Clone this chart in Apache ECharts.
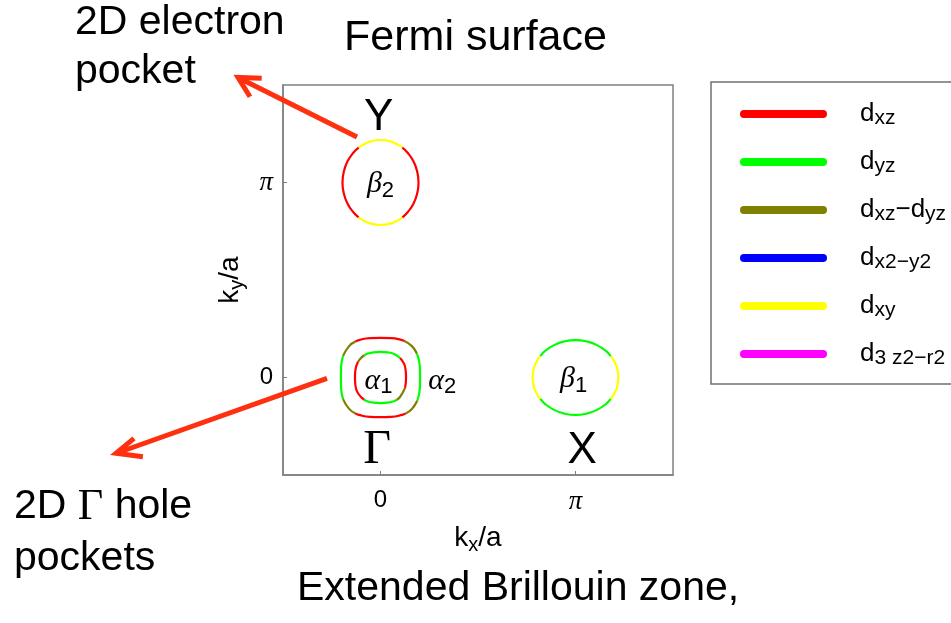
<!DOCTYPE html>
<html><head><meta charset="utf-8">
<script src="https://cdn.jsdelivr.net/npm/echarts@6/dist/echarts.min.js"></script>
<style>html,body{margin:0;padding:0;background:#fff}#c{width:951px;height:623px}</style>
</head><body><div id="c"></div>
<script>
// ---- data (coordinates in units of pi) ----
const orbitals = ['dxz', 'dyz', 'dxz-dyz', 'dx2-y2', 'dxy', 'd3z2-r2'];
const orbitalColors = ['#ff0000', '#00ff00', '#808000', '#0000ff', '#ffff00', '#ff00ff'];
const orbitalLabels = [
  '{sp|}{d|d}{s|xz}',
  '{sp|}{d|d}{s|yz}',
  '{sp|}{d|d}{s|xz}{d|\u2212d}{s|yz}',
  '{sp|}{d|d}{s|x2\u2212y2}',
  '{sp|}{d|d}{s|xy}',
  '{sp|}{d|d}{s|3 z2\u2212r2}'
];
const xTicks = [0, 1];
const xTickLabels = ['{n|0}', '{p|\u03c0}'];
const yTicks = [0, 1];
const yTickLabels = ['{n|0}', '{p|\u03c0}'];

// beta2 pocket around Y
const beta2Arcs = [
  ['dxy', [[0.112,1.179],[0.098,1.189],[0.050,1.211],[0,1.218],[-0.050,1.211],[-0.098,1.189],[-0.112,1.179]]],
  ['dxz', [[-0.112,1.179],[-0.138,1.154],[-0.169,1.109],[-0.188,1.056],[-0.195,1.0],[-0.188,0.944],[-0.169,0.891],[-0.138,0.846],[-0.112,0.821]]],
  ['dxy', [[-0.112,0.821],[-0.098,0.811],[-0.050,0.789],[0,0.782],[0.050,0.789],[0.098,0.811],[0.112,0.821]]],
  ['dxz', [[0.112,0.821],[0.138,0.846],[0.169,0.891],[0.188,0.944],[0.195,1.0],[0.188,1.056],[0.169,1.109],[0.138,1.154],[0.112,1.179]]]
];
// beta1 pocket around X
const beta1Arcs = [
  ['dxy', [[1.180,-0.110],[1.191,-0.096],[1.213,-0.050],[1.220,0],[1.213,0.050],[1.191,0.096],[1.180,0.110]]],
  ['dyz', [[1.180,0.110],[1.156,0.136],[1.110,0.166],[1.057,0.185],[1.000,0.192],[0.943,0.185],[0.890,0.166],[0.844,0.136],[0.820,0.110]]],
  ['dxy', [[0.820,0.110],[0.809,0.096],[0.787,0.050],[0.780,0],[0.787,-0.050],[0.809,-0.096],[0.820,-0.110]]],
  ['dyz', [[0.820,-0.110],[0.844,-0.136],[0.890,-0.166],[0.943,-0.185],[1.000,-0.192],[1.057,-0.185],[1.110,-0.166],[1.156,-0.136],[1.180,-0.110]]]
];
// alpha2 outer hole pocket around Gamma
const alpha2Arcs = [
  ['dxz-dyz', [[0.187,0.122],[0.161,0.161],[0.122,0.187]]],
  ['dxz', [[0.122,0.187],[0.111,0.192],[0.054,0.202],[0,0.203],[-0.054,0.202],[-0.111,0.192],[-0.129,0.184]]],
  ['dxz-dyz', [[-0.129,0.184],[-0.161,0.161],[-0.192,0.111]]],
  ['dyz', [[-0.192,0.111],[-0.202,0.054],[-0.203,0],[-0.202,-0.054],[-0.192,-0.111]]],
  ['dxz-dyz', [[-0.192,-0.111],[-0.161,-0.161],[-0.129,-0.184]]],
  ['dxz', [[-0.129,-0.184],[-0.111,-0.192],[-0.054,-0.202],[0,-0.203],[0.054,-0.202],[0.111,-0.192],[0.129,-0.184]]],
  ['dxz-dyz', [[0.129,-0.184],[0.161,-0.161],[0.189,-0.118]]],
  ['dyz', [[0.189,-0.118],[0.202,-0.054],[0.203,0],[0.202,0.054],[0.187,0.122]]]
];
// alpha1 inner hole pocket around Gamma
const alpha1Arcs = [
  ['dyz', [[0.100,0.100],[0.070,0.121],[0.035,0.129],[0,0.131],[-0.035,0.129],[-0.070,0.121],[-0.083,0.114]]],
  ['dxz-dyz', [[-0.083,0.114],[-0.100,0.100],[-0.116,0.079]]],
  ['dxz', [[-0.116,0.079],[-0.129,0.035],[-0.131,0],[-0.129,-0.035],[-0.121,-0.070],[-0.100,-0.100],[-0.083,-0.114]]],
  ['dyz', [[-0.083,-0.114],[-0.070,-0.121],[-0.035,-0.129],[0,-0.131],[0.035,-0.129],[0.070,-0.121],[0.083,-0.114]]],
  ['dxz-dyz', [[0.083,-0.114],[0.100,-0.100],[0.126,-0.053]]],
  ['dxz', [[0.126,-0.053],[0.131,0],[0.129,0.035],[0.121,0.070],[0.100,0.100]]]
];
const symmetryPoints = [['Y', -0.009, 1.334], ['\u0393', -0.017, -0.376], ['X', 1.034, -0.376]];
const pocketNames = [['\u03b2', '2', 0.0, 0.99], ['\u03b1', '1', -0.01, -0.02], ['\u03b1', '2', 0.316, -0.02], ['\u03b2', '1', 0.99, -0.01]];

// ---- chart ----
const colorOf = {};
orbitals.forEach((o, i) => { colorOf[o] = orbitalColors[i]; });
const series = [];
orbitals.forEach(o => series.push({
  type: 'line', name: o, data: [], showSymbol: false, symbol: 'none',
  lineStyle: { color: colorOf[o], width: 2.2 }, itemStyle: { color: colorOf[o] }
}));
[beta2Arcs, beta1Arcs, alpha2Arcs, alpha1Arcs].forEach(arcs => arcs.forEach(([orb, pts]) => series.push({
  type: 'line', name: orb, data: pts, smooth: 0.5, showSymbol: false, symbol: 'none', silent: true, z: 3,
  lineStyle: { color: colorOf[orb], width: 2.2 }, itemStyle: { color: colorOf[orb] }
})));
const sansF = 'Liberation Sans', serifF = 'Liberation Serif';
series.push({
  type: 'scatter', name: 'points', silent: true, symbolSize: 1, z: 5,
  itemStyle: { color: 'rgba(0,0,0,0)', opacity: 1 },
  data: symmetryPoints.map(([t, x, y]) => ({ value: [x, y], label: { formatter: t === '\u0393' ? '{gm|\u0393}' : '{big|' + t + '}' } }))
    .concat(pocketNames.map(([g, s, x, y]) => ({ value: [x, y], label: { formatter: '{g|' + g + '}{s|' + s + '}' } }))),
  label: {
    show: true, position: 'inside', color: '#000', opacity: 1,
    rich: {
      big: { fontFamily: sansF, fontSize: 44, color: '#000' },
      gm: { fontFamily: serifF, fontSize: 48, color: '#000' },
      g: { fontFamily: serifF, fontStyle: 'italic', fontSize: 30, lineHeight: 34, color: '#000' },
      s: { fontFamily: sansF, fontSize: 22, lineHeight: 19, verticalAlign: 'bottom', color: '#000' }
    }
  }
});

const axisRich = {
  n: { fontFamily: sansF, fontSize: 24, color: '#000' },
  p: { fontFamily: serifF, fontStyle: 'italic', fontSize: 27, color: '#000' }
};
const nameRich = {
  k: { fontFamily: sansF, fontSize: 28, lineHeight: 34, color: '#000' },
  s: { fontFamily: sansF, fontSize: 20, lineHeight: 18, verticalAlign: 'bottom', color: '#000' }
};
const arrowColor = '#ff3010';

const option = {
  animation: false,
  backgroundColor: '#fff',
  title: {
    text: 'Fermi surface', left: 'center', top: 12, padding: [5, 0, 5, 25],
    textStyle: { fontFamily: sansF, fontSize: 43, fontWeight: 'normal', color: '#000' }
  },
  grid: { left: 283, top: 85, width: 390, height: 390, show: true, borderColor: '#808080', borderWidth: 1.5, containLabel: false },
  legend: {
    orient: 'vertical', left: 711, top: 82, padding: [19, 12, 15, 29],
    itemWidth: 87, itemHeight: 8, itemGap: 20, selectedMode: false,
    icon: 'path://M4,0L83,0A4,4,0,0,1,83,8L4,8A4,4,0,0,1,4,0Z',
    itemStyle: { borderWidth: 0 },
    borderColor: '#707070', borderWidth: 1.5,
    data: orbitals,
    formatter: name => orbitalLabels[orbitals.indexOf(name)],
    textStyle: {
      rich: {
        sp: { width: 28 },
        d: { fontFamily: sansF, fontSize: 26, lineHeight: 30, color: '#000' },
        s: { fontFamily: sansF, fontSize: 21, lineHeight: 16, verticalAlign: 'bottom', color: '#000' }
      }
    }
  },
  xAxis: {
    type: 'value', min: -0.5, max: 1.5,
    axisLine: { show: true, onZero: false, lineStyle: { color: '#808080', width: 1.5 } },
    axisTick: { show: true, inside: true, length: 4, customValues: xTicks, lineStyle: { color: '#808080' } },
    axisLabel: { show: true, customValues: xTicks, margin: 13, formatter: v => xTickLabels[xTicks.indexOf(v)], rich: axisRich },
    splitLine: { show: false },
    name: '{k|k}{s|x}{k|/a}', nameLocation: 'middle', nameGap: 46, nameTextStyle: { rich: nameRich }
  },
  yAxis: {
    type: 'value', min: -0.5, max: 1.5,
    axisLine: { show: true, onZero: false, lineStyle: { color: '#808080', width: 1.5 } },
    axisTick: { show: true, inside: true, length: 4, customValues: yTicks, lineStyle: { color: '#808080' } },
    axisLabel: { show: true, customValues: yTicks, margin: 10, formatter: v => yTickLabels[yTicks.indexOf(v)], rich: axisRich },
    splitLine: { show: false },
    name: '{k|k}{s|y}{k|/a}', nameLocation: 'middle', nameGap: 36, nameTextStyle: { rich: nameRich }
  },
  graphic: [
    { type: 'text', x: 75, y: 22.5, silent: true, style: { text: '2D electron', fontFamily: sansF, fontSize: 41, fill: '#000', verticalAlign: 'middle' } },
    { type: 'text', x: 75, y: 71.5, silent: true, style: { text: 'pocket', fontFamily: sansF, fontSize: 41, fill: '#000', verticalAlign: 'middle' } },
    { type: 'text', x: 14, y: 507, silent: true, style: {
        text: '{a|2D }{g|\u0393}{a| hole}', verticalAlign: 'middle', fill: '#000',
        rich: { a: { fontFamily: sansF, fontSize: 41, fill: '#000' }, g: { fontFamily: serifF, fontSize: 44, fill: '#000' } } } },
    { type: 'text', x: 14, y: 559, silent: true, style: { text: 'pockets', fontFamily: sansF, fontSize: 41, fill: '#000', verticalAlign: 'middle' } },
    { type: 'text', x: 297, y: 589, silent: true, style: { text: 'Extended Brillouin zone,', fontFamily: sansF, fontSize: 41, fill: '#000', verticalAlign: 'middle' } },
    { type: 'line', silent: true, z: 10, shape: { x1: 357, y1: 137, x2: 239, y2: 78 }, style: { stroke: arrowColor, lineWidth: 5 } },
    { type: 'polyline', silent: true, z: 10, shape: { points: [[250, 96.7], [238, 77.5], [261.7, 78.3]] }, style: { stroke: arrowColor, lineWidth: 5, fill: null, lineJoin: 'miter' } },
    { type: 'line', silent: true, z: 10, shape: { x1: 327, y1: 378.3, x2: 117, y2: 453 }, style: { stroke: arrowColor, lineWidth: 5 } },
    { type: 'polyline', silent: true, z: 10, shape: { points: [[142.9, 456.7], [116, 453.3], [134, 438.3]] }, style: { stroke: arrowColor, lineWidth: 5, fill: null, lineJoin: 'miter' } }
  ],
  series: series
};
const chart = echarts.init(document.getElementById('c'), null, { renderer: 'canvas' });
chart.setOption(option);
</script>
</body></html>
